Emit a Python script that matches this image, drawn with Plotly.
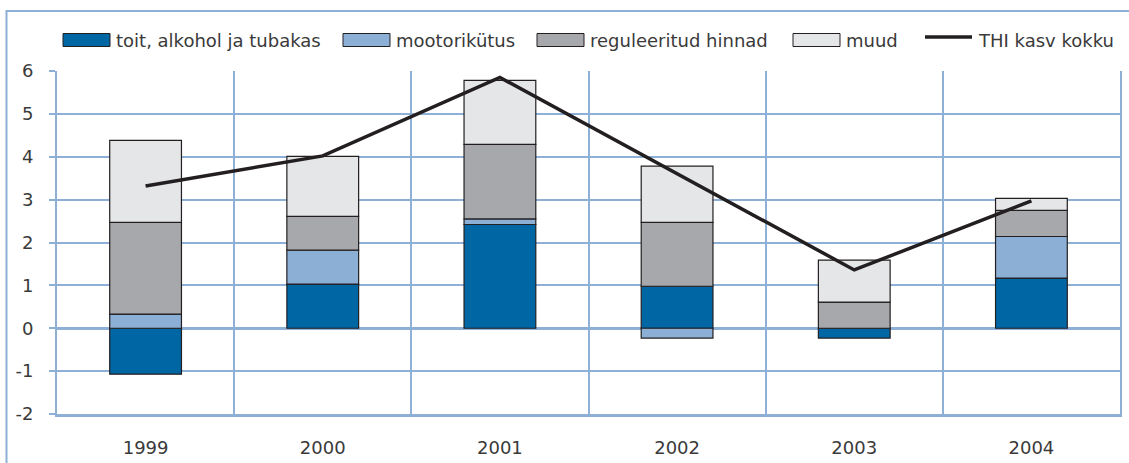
import plotly.graph_objects as go

years = ["1999", "2000", "2001", "2002", "2003", "2004"]
series_names = ["toit, alkohol ja tubakas", "mootorikütus", "reguleeritud hinnad", "muud"]
toit = [-1.07, 1.03, 2.42, 0.98, -0.23, 1.17]
mootor = [0.33, 0.79, 0.13, -0.23, 0.0, 0.97]
reguleeritud = [2.14, 0.79, 1.74, 1.49, 0.61, 0.61]
muud = [1.91, 1.40, 1.49, 1.31, 0.98, 0.28]
line_name = "THI kasv kokku"
thi = [3.32, 4.02, 5.85, 3.60, 1.36, 2.97]
y_ticks = [-2, -1, 0, 1, 2, 3, 4, 5, 6]
y_ticktext = ["-2", "-1", "0", "1", "2", "3", "4", "5", "6"]

colors = ["#0066A4", "#8CAFD6", "#A7A8AC", "#E5E6E8"]
edge = "#231F20"
grid = "#8EB0D6"
font_family = "DejaVu Sans"
text_color = "#3A3A3A"

W, H = 1129, 463
L, R, T, B = 57, 9, 71, 49
pw, ph = W - L - R, H - T - B


def px2x(px):
    return (px - L) / pw


def py2y(py):
    return (H - B - py) / ph


fig = go.Figure()
for name, vals, col in zip(series_names, [toit, mootor, reguleeritud, muud], colors):
    fig.add_trace(go.Bar(x=years, y=vals, name=name, marker=dict(color=col, line=dict(color=edge, width=1.2)),
                         showlegend=False, hoverinfo="skip"))
fig.add_trace(go.Scatter(x=years, y=thi, mode="lines", name=line_name,
                         line=dict(color=edge, width=3.5), showlegend=False, hoverinfo="skip"))

shapes = []
annotations = []
# outer frame
shapes.append(dict(type="rect", xref="paper", yref="paper", x0=px2x(6.5), x1=px2x(1140),
                   y0=py2y(480), y1=py2y(11), line=dict(color=grid, width=2), fillcolor="rgba(0,0,0,0)",
                   layer="below"))

# custom legend
legend_x = [63, 343, 537, 793, 925]
legend_w = 47
legend_cy = 40
for i, name in enumerate(series_names + [line_name]):
    x0 = legend_x[i]
    if i < 4:
        shapes.append(dict(type="rect", xref="paper", yref="paper", x0=px2x(x0), x1=px2x(x0 + legend_w),
                           y0=py2y(legend_cy + 6.5), y1=py2y(legend_cy - 6.5),
                           fillcolor=colors[i], line=dict(color=edge, width=1)))
    else:
        shapes.append(dict(type="line", xref="paper", yref="paper", x0=px2x(x0), x1=px2x(x0 + legend_w),
                           y0=py2y(legend_cy - 3), y1=py2y(legend_cy - 3), line=dict(color=edge, width=3.5)))
    annotations.append(dict(text=name, xref="paper", yref="paper", x=px2x(x0 + legend_w + 4), y=py2y(legend_cy),
                            xanchor="left", yanchor="middle", showarrow=False,
                            font=dict(family=font_family, size=18, color=text_color)))

fig.update_layout(
    width=W, height=H,
    margin=dict(l=L, r=R, t=T, b=B, autoexpand=False),
    paper_bgcolor="white", plot_bgcolor="white",
    barmode="relative", bargap=0.595,
    shapes=shapes, annotations=annotations,
    hovermode=False,
    font=dict(family=font_family, size=18, color=text_color),
    xaxis=dict(type="category", tickson="boundaries", showgrid=True, gridcolor=grid, gridwidth=2,
               ticks="", showline=True, linecolor=grid, linewidth=3, ticklabelstandoff=15, automargin=False,
               tickfont=dict(size=18, color=text_color)),
    yaxis=dict(range=[-2, 6], tickvals=y_ticks, ticktext=y_ticktext, showgrid=True, gridcolor=grid, gridwidth=2,
               ticks="outside", ticklen=6, tickcolor=grid, tickwidth=2, automargin=False,
               zeroline=True, zerolinecolor=grid, zerolinewidth=3,
               showline=True, linecolor=grid, linewidth=2, mirror=True,
               ticklabelstandoff=12, tickfont=dict(size=18, color=text_color)),
)

fig.write_html("out.html", config={"displayModeBar": False},
               post_script="document.body.style.margin='0';document.body.style.overflow='hidden';")
